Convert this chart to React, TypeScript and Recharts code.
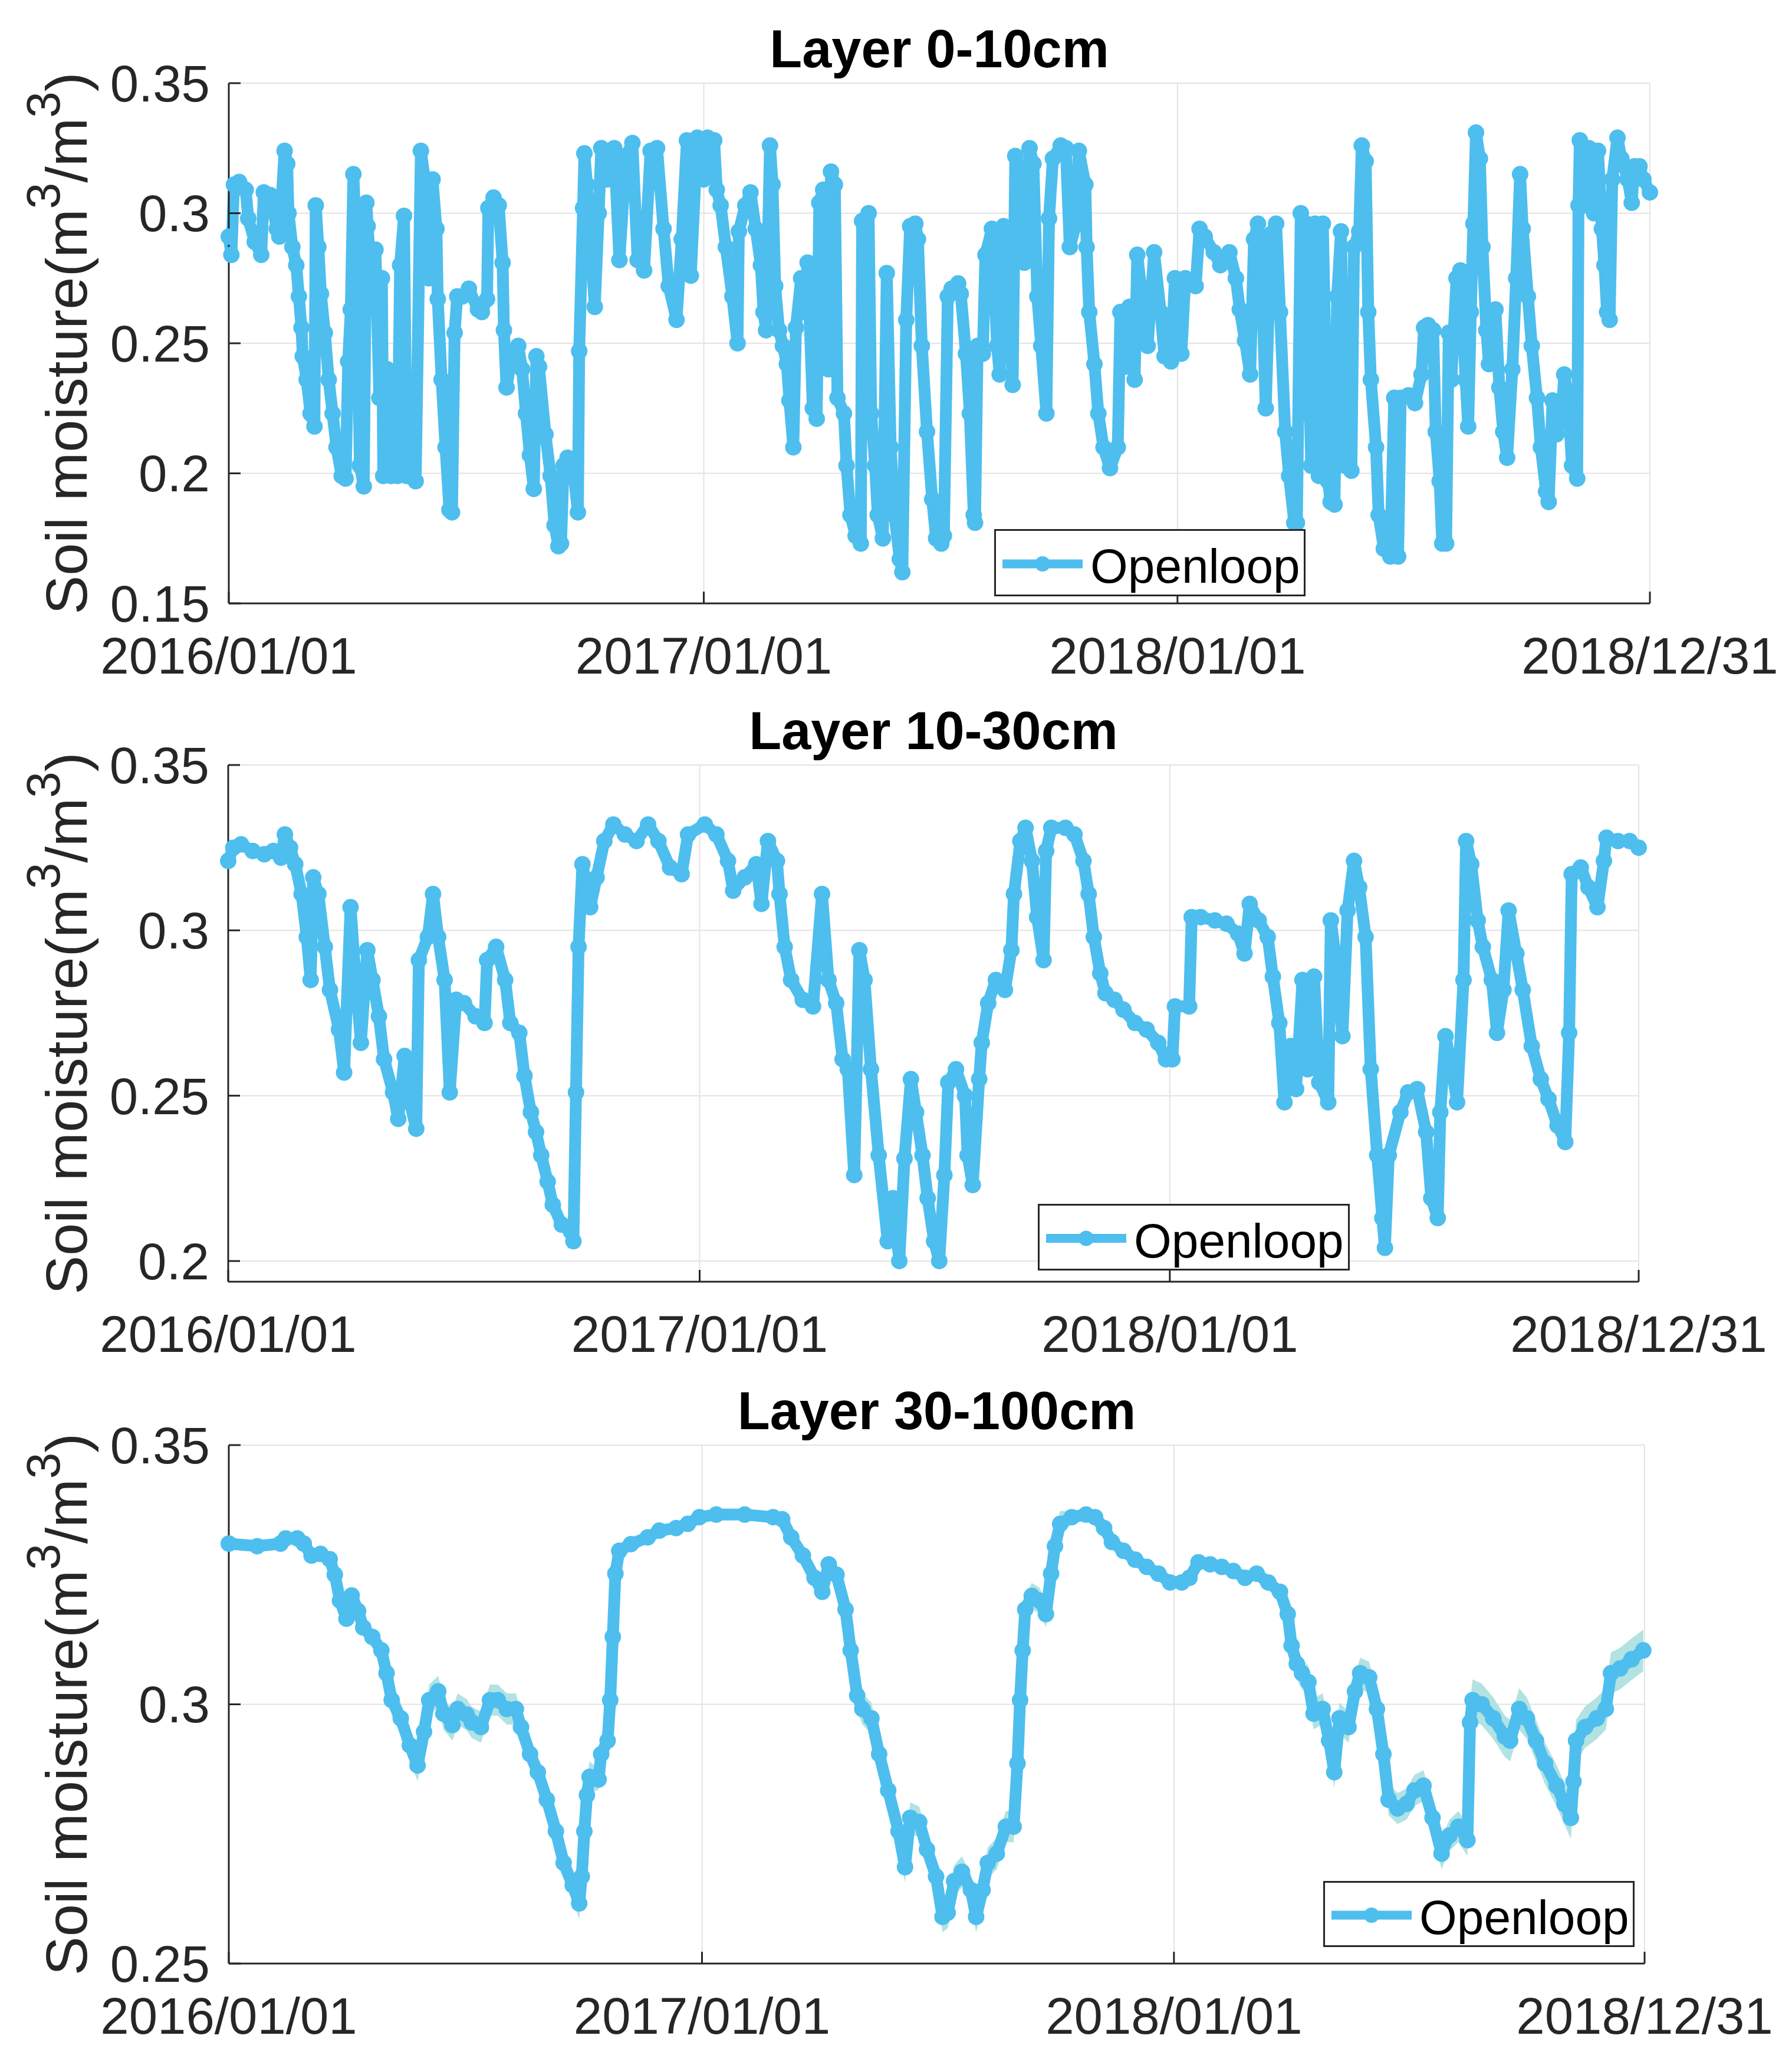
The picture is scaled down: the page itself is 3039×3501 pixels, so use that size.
import { ComposedChart, Line, Area, XAxis, YAxis, CartesianGrid } from "recharts";

const PAGE_W = 3039;
const PAGE_H = 3501;
const FONT = "'Liberation Sans', Arial, Helvetica, sans-serif";
const LINE_COLOR = "#4DBEEE";
const BAND_COLOR = "#B2E2E2";
const AXIS_COLOR = "#262626";

// x axis: day index counted from 2016/01/01
const X_TICKS = [0, 366, 731, 1095];
const X_TICK_LABELS = ["2016/01/01", "2017/01/01", "2018/01/01", "2018/12/31"];

// ---- Layer 0-10cm ----
const DAYS_0_10 = [
  0, 2, 4, 8, 13, 15, 20, 25, 27, 32, 37, 39, 43, 45, 46, 49, 52, 54, 56, 57, 60, 63, 66, 67, 69, 71, 74, 77, 80, 83,
  87, 90, 92, 94, 96, 98, 99, 101, 104, 106, 107, 110, 113, 116, 118, 119, 122, 125, 126, 130, 132, 135, 137, 140,
  144, 148, 151, 154, 157, 160, 161, 164, 167, 170, 172, 174, 176, 180, 185, 192, 195, 199, 200, 204, 208, 211, 212,
  214, 218, 223, 226, 229, 232, 235, 237, 239, 244, 248, 251, 254, 256, 258, 261, 266, 269, 270, 273, 274, 276, 279,
  282, 285, 287, 292, 297, 301, 306, 311, 315, 320, 325, 330, 335, 339, 345, 349, 353, 356, 361,
  366, 369, 374, 376, 379, 383, 388, 392, 393, 398, 402, 406, 410, 412, 414, 417, 419, 421, 424, 427, 430, 432, 435,
  437, 441, 444, 446, 450, 453, 455, 458, 462, 464, 467, 469, 474, 476, 479, 483, 487, 488, 493, 495, 498, 500, 504,
  507, 510, 513, 517, 519, 522, 525, 529, 531, 534, 538, 542, 545, 549, 551, 554, 557, 562, 564, 568, 571, 574, 575,
  577, 581, 583, 588, 592, 594, 597, 600, 604, 606, 610, 613, 617, 620, 623, 626, 630, 632, 635, 641, 645, 648, 653,
  655, 660, 661, 663, 667, 670, 674, 679, 685, 687, 691, 694, 698, 700, 705, 708, 713, 718, 721, 726,
  729, 734, 737, 745, 748, 752, 759, 764, 771, 776, 779, 783, 787, 790, 793, 796, 799, 803, 807, 810, 814, 817, 821,
  823, 826, 828, 830, 834, 837, 840, 843, 847, 849, 852, 854, 857, 860, 865, 867, 871, 873, 876, 878, 880, 884, 886,
  890, 895, 898, 901, 903, 909, 914, 919, 921, 924, 928, 930, 933, 935, 938, 940, 942, 946, 949, 953, 955, 957, 959,
  961, 964, 966, 969, 971, 976, 979, 982, 985, 989, 992, 995, 997, 1001, 1004, 1008, 1011, 1015, 1017, 1020, 1023,
  1027, 1029, 1032, 1035, 1039, 1040, 1041, 1045, 1048, 1052, 1055, 1058, 1060, 1062, 1064, 1066, 1070, 1073, 1078,
  1081, 1083, 1087, 1090, 1095,
];
const SM_0_10 = [
  0.291, 0.284, 0.311, 0.312, 0.309, 0.298, 0.289, 0.284, 0.308, 0.307, 0.294, 0.291, 0.324, 0.319, 0.3, 0.287, 0.28,
  0.268, 0.256, 0.245, 0.236, 0.223, 0.218, 0.303, 0.287, 0.269, 0.254, 0.236, 0.223, 0.21,
  0.199, 0.198, 0.243, 0.263, 0.315, 0.29, 0.262, 0.203, 0.195, 0.304, 0.295, 0.272, 0.286, 0.229, 0.275, 0.199, 0.24,
  0.199, 0.238, 0.199, 0.28, 0.299, 0.199, 0.215,
  0.197, 0.324, 0.313, 0.275, 0.313, 0.294, 0.267, 0.236, 0.21, 0.186, 0.185, 0.254, 0.268, 0.268, 0.271, 0.263, 0.262,
  0.267, 0.302, 0.306, 0.303, 0.281, 0.255,
  0.233, 0.245, 0.249, 0.24, 0.223, 0.207, 0.194, 0.245, 0.241, 0.215, 0.199, 0.18, 0.172, 0.173, 0.203, 0.206, 0.199,
  0.185, 0.247, 0.302, 0.323, 0.311, 0.287,
  0.264, 0.3, 0.325, 0.313, 0.325, 0.282, 0.322, 0.327, 0.282, 0.278, 0.324, 0.325, 0.294, 0.272, 0.259, 0.29, 0.328,
  0.276, 0.329,
  0.313, 0.329, 0.328, 0.309, 0.303, 0.287, 0.268, 0.25, 0.293, 0.303, 0.308, 0.294, 0.28, 0.262, 0.255, 0.326, 0.311,
  0.272, 0.255, 0.249, 0.242, 0.228, 0.21,
  0.256, 0.275, 0.262, 0.281, 0.225, 0.221, 0.304, 0.309, 0.24, 0.316, 0.311, 0.229, 0.223, 0.203, 0.184, 0.176, 0.173,
  0.297, 0.3, 0.223, 0.203, 0.184, 0.175,
  0.277, 0.21, 0.184, 0.167, 0.162, 0.259, 0.295, 0.296, 0.29, 0.249, 0.216, 0.19, 0.175, 0.173, 0.176, 0.268, 0.271,
  0.273, 0.269, 0.246, 0.223, 0.184, 0.181,
  0.249, 0.246, 0.284, 0.294, 0.249, 0.238, 0.295, 0.285, 0.234, 0.322, 0.316, 0.281, 0.325, 0.319, 0.268, 0.249, 0.223,
  0.298, 0.321, 0.326, 0.325, 0.287, 0.296,
  0.324, 0.311, 0.287, 0.262, 0.242, 0.223, 0.21, 0.202, 0.21, 0.262, 0.241, 0.264, 0.236, 0.284, 0.262, 0.249, 0.285,
  0.262, 0.245, 0.243,
  0.275, 0.246, 0.275, 0.272, 0.294, 0.291, 0.285, 0.28, 0.285, 0.275, 0.263, 0.251, 0.238, 0.29, 0.296, 0.275, 0.225,
  0.292, 0.296, 0.262, 0.216, 0.199, 0.181,
  0.181, 0.3, 0.223, 0.296, 0.203, 0.296, 0.199, 0.296, 0.197, 0.189, 0.188, 0.268, 0.293, 0.203, 0.201, 0.287, 0.293,
  0.326, 0.32, 0.262, 0.236, 0.21, 0.184,
  0.171, 0.168, 0.229, 0.168, 0.229, 0.23, 0.227, 0.238, 0.256, 0.257, 0.255, 0.216, 0.197, 0.173, 0.173, 0.254, 0.236,
  0.275, 0.278, 0.236, 0.218, 0.262, 0.296,
  0.331, 0.321, 0.287, 0.255, 0.242, 0.263, 0.233, 0.216, 0.206, 0.24, 0.275, 0.315, 0.294, 0.268, 0.249, 0.229, 0.21,
  0.193, 0.189, 0.228, 0.215,
  0.222, 0.238, 0.228, 0.203, 0.198, 0.303, 0.328, 0.303, 0.325, 0.3, 0.324, 0.294, 0.28, 0.262, 0.259, 0.313, 0.329,
  0.321, 0.313,
  0.304, 0.318, 0.318, 0.313, 0.308,
];
const Y_TICKS_0_10 = [0.15, 0.2, 0.25, 0.3, 0.35];

// ---- Layer 10-30cm ----
const DAYS_10_30 = [
  0, 4, 10, 19, 28, 35, 41, 44, 48, 52, 57, 61, 64, 66, 70, 75, 79, 86, 90, 95, 99, 103, 108, 112, 117, 121, 128, 132,
  137, 141, 146, 148, 155, 159, 163, 168, 172, 177, 183, 192, 199, 201, 208, 215, 219, 226, 230, 235, 239, 243, 248,
  252, 259, 266, 268, 270, 272, 275, 281, 286, 292, 299, 308, 317, 326, 334, 343, 352, 357, 370, 379, 388, 392, 401,
  410, 414, 419, 426, 428, 432, 437, 446, 454, 461, 466, 472, 477, 481, 486, 490, 494, 499, 505, 512, 516, 521, 525,
  530, 534, 539, 543, 548, 552, 556, 559, 565, 572, 574, 578, 583, 585, 590, 596, 603, 608, 610, 615, 619, 624, 628,
  633, 635, 639, 650, 657, 664, 668, 672, 677, 681, 688, 695, 704, 713, 722, 728, 733, 735, 746, 748, 755, 766, 775,
  784, 789, 793, 800, 807, 811, 816, 820, 825, 829, 834, 838, 843, 847, 854, 856, 860, 865, 869, 874, 878, 883, 887,
  892, 896, 898, 901, 910, 916, 923, 930, 934, 939, 941, 945, 950, 954, 959, 961, 965, 970, 974, 981, 985, 990, 994,
  1000, 1005, 1012, 1019, 1025, 1032, 1038, 1041, 1043, 1050, 1056, 1063, 1068, 1070, 1079, 1088, 1095,
];
const SM_10_30 = [
  0.321, 0.325, 0.326, 0.324, 0.323, 0.324, 0.322, 0.329, 0.325, 0.32, 0.311, 0.298, 0.285, 0.316, 0.311, 0.295, 0.282,
  0.27, 0.257, 0.307, 0.285, 0.266, 0.294, 0.285, 0.274, 0.261, 0.251, 0.243,
  0.262, 0.248, 0.24, 0.291, 0.298, 0.311, 0.298, 0.285, 0.251, 0.279, 0.278, 0.274, 0.272, 0.291, 0.295, 0.285, 0.272,
  0.269, 0.256, 0.245, 0.239, 0.232, 0.224,
  0.217, 0.211, 0.209, 0.206, 0.251, 0.295, 0.32, 0.307, 0.316, 0.327, 0.332, 0.329, 0.327, 0.332, 0.327, 0.319, 0.317,
  0.329, 0.332, 0.329, 0.321, 0.312, 0.316,
  0.32, 0.308, 0.327, 0.321, 0.311, 0.295, 0.285, 0.279, 0.277, 0.311, 0.285, 0.278, 0.261, 0.258, 0.226, 0.294, 0.285,
  0.258, 0.232, 0.206, 0.219, 0.2, 0.231,
  0.255, 0.245, 0.232, 0.219, 0.206, 0.2, 0.226, 0.254, 0.258, 0.25, 0.232, 0.223, 0.255, 0.266, 0.278, 0.285, 0.282,
  0.294, 0.311, 0.327, 0.331, 0.321, 0.304,
  0.291, 0.324, 0.331, 0.331, 0.329, 0.321, 0.311, 0.298, 0.287, 0.281, 0.279, 0.276, 0.272, 0.27, 0.266, 0.261, 0.261,
  0.277, 0.277, 0.304, 0.304, 0.303, 0.302,
  0.299, 0.293, 0.308, 0.303, 0.298, 0.286, 0.272, 0.248, 0.265, 0.252, 0.285, 0.258, 0.286, 0.254, 0.248, 0.303, 0.291,
  0.268, 0.306, 0.321, 0.313, 0.298, 0.258,
  0.232, 0.213, 0.204, 0.232, 0.245, 0.251, 0.252, 0.239, 0.219, 0.213, 0.245, 0.268, 0.258, 0.248, 0.285, 0.327, 0.32,
  0.303, 0.295, 0.285, 0.269, 0.282, 0.306,
  0.293, 0.282, 0.265, 0.255, 0.249, 0.241, 0.236, 0.269, 0.317, 0.319, 0.313, 0.307, 0.321, 0.328, 0.327, 0.327, 0.325,
];
const Y_TICKS_10_30 = [0.2, 0.25, 0.3, 0.35];

// ---- Layer 30-100cm ----
const DAYS_30_100 = [
  0, 22, 40, 44, 53, 58, 64, 71, 78, 82, 86, 91, 95, 100, 104, 111, 118, 122, 126, 133, 140, 146, 151, 155, 162, 166,
  173, 177, 184, 188, 195, 202, 208, 215, 222, 226, 233, 239, 246, 253, 259, 266, 271, 273, 275, 277, 279, 286, 288,
  293, 295, 297, 299, 302, 311, 324, 333, 346, 355, 364, 377, 399, 421, 428, 435, 444, 453, 459, 464, 470, 477, 481,
  486, 490, 497, 503, 510, 518, 523, 527, 534, 540, 547, 552, 556, 561, 567, 574, 578, 583, 587, 594, 601, 607, 610,
  612, 614, 616, 621, 627, 632, 636, 639, 643, 652, 663, 670, 677, 683, 692, 701, 710, 719, 728, 737, 743, 750, 759,
  768, 777, 786, 795, 804, 813, 819, 822, 826, 830, 835, 839, 846, 851, 855, 859, 866, 871, 875, 882, 888, 893, 897,
  904, 911, 917, 924, 931, 938, 944, 951, 958, 960, 962, 969, 978, 987, 991, 998, 1004, 1011, 1018, 1027, 1033, 1038,
  1040, 1042, 1049, 1058, 1065, 1069, 1076, 1085, 1094,
];
const SM_30_100 = [
  0.331, 0.3305, 0.331, 0.332, 0.332, 0.331, 0.3287, 0.329, 0.328, 0.325, 0.32, 0.3165, 0.321, 0.318, 0.3148, 0.313,
  0.3104, 0.306, 0.3008, 0.2973, 0.2921, 0.2882, 0.2947, 0.3008, 0.3025, 0.2982,
  0.296, 0.2991, 0.298, 0.2965, 0.2956, 0.3008, 0.3008, 0.2991, 0.2991, 0.2956, 0.2904, 0.2869, 0.2816, 0.2755, 0.2694,
  0.2651, 0.2616, 0.2668, 0.2755, 0.2825, 0.286, 0.2855, 0.2904,
  0.293, 0.3008, 0.313, 0.3252, 0.3296, 0.3309, 0.3322, 0.3335, 0.334, 0.3348, 0.3361, 0.3366, 0.3366, 0.3361, 0.3357,
  0.3322, 0.3287, 0.3244, 0.3217, 0.327, 0.325, 0.3183, 0.3104,
  0.3017, 0.2991, 0.2973, 0.2904, 0.2834, 0.2755, 0.2686, 0.2781, 0.2773, 0.272, 0.2668, 0.259, 0.2598, 0.2659, 0.2677,
  0.2642, 0.259, 0.2642, 0.2694, 0.2712, 0.2764, 0.2764, 0.2886,
  0.3008, 0.3104, 0.3183, 0.3209, 0.32, 0.3174, 0.3252, 0.3305, 0.3348, 0.3361, 0.3366, 0.3361, 0.334, 0.3313, 0.3296,
  0.3279, 0.3265, 0.3252, 0.3235, 0.3235, 0.3244, 0.3274, 0.327,
  0.3265, 0.3257, 0.3244, 0.3252, 0.3235, 0.3217, 0.3174, 0.3113, 0.3078, 0.306, 0.3043, 0.2982, 0.2991, 0.293, 0.2869,
  0.2973, 0.2956, 0.3025, 0.306, 0.3052, 0.2991, 0.2904, 0.2816,
  0.2799, 0.2808, 0.2834, 0.2843, 0.2781, 0.2712, 0.2747, 0.2764, 0.2738, 0.2965, 0.3008, 0.3, 0.2973, 0.2938, 0.293,
  0.2991, 0.2973, 0.293, 0.2886, 0.2843, 0.2808, 0.2781,
  0.2851, 0.293, 0.2956, 0.2973, 0.2991, 0.306, 0.3069, 0.3087, 0.3104,
];
// half width of the ensemble spread drawn behind the 30-100cm line
const SPREAD_30_100 = [
  0.001, 0.001, 0.001, 0.001, 0.001, 0.001, 0.001, 0.001, 0.001, 0.001, 0.001, 0.001, 0.001, 0.001, 0.001, 0.001,
  0.001, 0.001,
  0.003, 0.003, 0.003, 0.003, 0.003, 0.003, 0.003, 0.003, 0.003, 0.003, 0.003, 0.003, 0.003, 0.003, 0.003, 0.003,
  0.003, 0.003, 0.003, 0.003, 0.003, 0.003, 0.003, 0.003, 0.003, 0.003, 0.003, 0.003, 0.003,
  0.002, 0.002, 0.002, 0.002, 0.002, 0.002,
  0.001, 0.001, 0.001, 0.001, 0.001, 0.001, 0.001, 0.001, 0.001, 0.001, 0.001, 0.001, 0.001, 0.001, 0.001, 0.001,
  0.001, 0.001, 0.001,
  0.003, 0.003, 0.003, 0.003, 0.003, 0.003, 0.003, 0.003, 0.003, 0.003, 0.003, 0.003, 0.003, 0.003, 0.003, 0.003,
  0.003, 0.003, 0.003, 0.003, 0.003, 0.003,
  0.0025, 0.0025, 0.0025, 0.0025, 0.0025, 0.0025, 0.0025, 0.0025, 0.0025, 0.0025,
  0.0012, 0.0012, 0.0012, 0.0012, 0.0012, 0.0012, 0.0012, 0.0012, 0.0012, 0.0012, 0.0012, 0.0012, 0.0012, 0.0012,
  0.0012, 0.0012, 0.0012, 0.0012, 0.0012, 0.0012, 0.0012,
  0.003, 0.003, 0.003, 0.003, 0.003, 0.003, 0.003, 0.003, 0.003, 0.003, 0.003, 0.003, 0.003, 0.003, 0.003, 0.003,
  0.003, 0.003, 0.003, 0.003, 0.003, 0.003, 0.003, 0.003, 0.003,
  0.004, 0.004, 0.004, 0.004, 0.004, 0.004, 0.004, 0.004, 0.004, 0.004, 0.004, 0.004, 0.004, 0.004, 0.004, 0.004,
  0.004, 0.004, 0.004, 0.004, 0.004, 0.004,
];
const Y_TICKS_30_100 = [0.25, 0.3, 0.35];

type Box = { left: number; right: number; top: number; bottom: number };
type LegendBox = { x: number; y: number; w: number; h: number };

const Y_AXIS_W = 250;
const X_AXIS_H = 140;
const ABOVE = 140;
const BELOW = 150;

function Legend({ box, top }: { box: LegendBox; top: number }) {
  const cy = box.h / 2 + 2;
  return (
    <div
      style={{
        position: "absolute",
        left: box.x,
        top: box.y - top,
        width: box.w,
        height: box.h,
        boxSizing: "border-box",
        border: `3px solid ${AXIS_COLOR}`,
        background: "#fff",
      }}
    >
      <svg width={box.w - 6} height={box.h - 6} style={{ display: "block" }}>
        <line x1={11} x2={147} y1={cy - 3} y2={cy - 3} stroke={LINE_COLOR} strokeWidth={15} />
        <circle cx={79} cy={cy - 3} r={13} fill={LINE_COLOR} />
        <text x={160} y={cy + 29} fontFamily={FONT} fontSize={82} fill="#000">
          Openloop
        </text>
      </svg>
    </div>
  );
}

function Panel(props: {
  title: string;
  days: number[];
  values: number[];
  spread?: number[];
  yDomain: [number, number];
  yTicks: number[];
  plot: Box;
  legend: LegendBox;
}) {
  const { title, days, values, spread, yDomain, yTicks, plot, legend } = props;
  const top = plot.top - ABOVE;
  const height = plot.bottom - plot.top + ABOVE + BELOW;
  const data = days.map((day, i) => ({
    day,
    sm: values[i],
    band: spread ? [values[i] - spread[i], values[i] + spread[i]] : null,
  }));
  const midY = ABOVE + (plot.bottom - plot.top) / 2;
  const tickStyle = { fontSize: 87, fill: AXIS_COLOR, fontFamily: FONT };

  return (
    <div style={{ position: "absolute", left: 0, top, width: PAGE_W, height }}>
      <ComposedChart
        width={PAGE_W}
        height={height}
        data={data}
        margin={{
          top: ABOVE,
          bottom: BELOW - X_AXIS_H,
          left: plot.left - Y_AXIS_W,
          right: PAGE_W - plot.right,
        }}
      >
        <CartesianGrid stroke="#e3e3e3" strokeWidth={2} />
        <XAxis
          dataKey="day"
          type="number"
          domain={[0, 1095]}
          ticks={X_TICKS}
          interval={0}
          height={X_AXIS_H}
          tickFormatter={(v: number) => X_TICK_LABELS[X_TICKS.indexOf(v)]}
          tick={tickStyle}
          tickSize={-20}
          tickMargin={77}
          axisLine={{ stroke: AXIS_COLOR, strokeWidth: 3 }}
          tickLine={{ stroke: AXIS_COLOR, strokeWidth: 3 }}
        />
        <XAxis
          xAxisId="top"
          orientation="top"
          type="number"
          domain={[0, 1095]}
          ticks={X_TICKS}
          interval={0}
          height={0}
          tick={false}
          tickSize={-20}
          axisLine={{ stroke: AXIS_COLOR, strokeWidth: 3 }}
          tickLine={{ stroke: AXIS_COLOR, strokeWidth: 3 }}
        />
        <YAxis
          type="number"
          domain={yDomain}
          ticks={yTicks}
          interval={0}
          width={Y_AXIS_W}
          tickFormatter={(v: number) => String(v)}
          tick={tickStyle}
          tickSize={-20}
          tickMargin={52}
          axisLine={{ stroke: AXIS_COLOR, strokeWidth: 3 }}
          tickLine={{ stroke: AXIS_COLOR, strokeWidth: 3 }}
        />
        <YAxis
          yAxisId="right"
          orientation="right"
          type="number"
          domain={yDomain}
          ticks={yTicks}
          interval={0}
          width={0}
          tick={false}
          tickSize={-20}
          axisLine={{ stroke: AXIS_COLOR, strokeWidth: 3 }}
          tickLine={{ stroke: AXIS_COLOR, strokeWidth: 3 }}
        />
        {spread && (
          <Area
            dataKey="band"
            type="linear"
            stroke="none"
            fill={BAND_COLOR}
            fillOpacity={1}
            isAnimationActive={false}
            activeDot={false}
          />
        )}
        <Line
          dataKey="sm"
          type="linear"
          stroke={LINE_COLOR}
          strokeWidth={20}
          strokeLinejoin="round"
          dot={{ r: 14, fill: LINE_COLOR, stroke: "none", strokeWidth: 0 }}
          activeDot={false}
          isAnimationActive={false}
        />
      </ComposedChart>

      <svg
        width={PAGE_W}
        height={height}
        style={{ position: "absolute", left: 0, top: 0, pointerEvents: "none" }}
      >
        <text
          x={(plot.left + plot.right) / 2}
          y={ABOVE - 27}
          textAnchor="middle"
          fontFamily={FONT}
          fontWeight="bold"
          fontSize={90}
          fill="#000"
        >
          {title}
        </text>
        <text
          transform={`translate(147, ${midY}) rotate(-90)`}
          textAnchor="middle"
          fontFamily={FONT}
          fontSize={99}
          fill={AXIS_COLOR}
        >
          Soil moisture(m
          <tspan dy={-46} fontSize={80}>3</tspan>
          <tspan dy={46}>/m</tspan>
          <tspan dy={-46} fontSize={80}>3</tspan>
          <tspan dy={46}>)</tspan>
        </text>
      </svg>

      <Legend box={legend} top={top} />
    </div>
  );
}

export default function App() {
  return (
    <div
      style={{
        position: "absolute",
        left: 0,
        top: 0,
        width: PAGE_W,
        height: PAGE_H,
        background: "#fff",
        overflow: "hidden",
      }}
    >
      <Panel
        title="Layer 0-10cm"
        days={DAYS_0_10}
        values={SM_0_10}
        yDomain={[0.15, 0.35]}
        yTicks={Y_TICKS_0_10}
        plot={{ left: 388, right: 2798, top: 141, bottom: 1023 }}
        legend={{ x: 1686, y: 897, w: 528, h: 114 }}
      />
      <Panel
        title="Layer 10-30cm"
        days={DAYS_10_30}
        values={SM_10_30}
        yDomain={[0.19375, 0.35]}
        yTicks={Y_TICKS_10_30}
        plot={{ left: 387, right: 2779, top: 1297, bottom: 2173 }}
        legend={{ x: 1760, y: 2041, w: 529, h: 113 }}
      />
      <Panel
        title="Layer 30-100cm"
        days={DAYS_30_100}
        values={SM_30_100}
        spread={SPREAD_30_100}
        yDomain={[0.25, 0.35]}
        yTicks={Y_TICKS_30_100}
        plot={{ left: 388, right: 2789, top: 2450, bottom: 3329 }}
        legend={{ x: 2244, y: 3189, w: 528, h: 112 }}
      />
    </div>
  );
}
